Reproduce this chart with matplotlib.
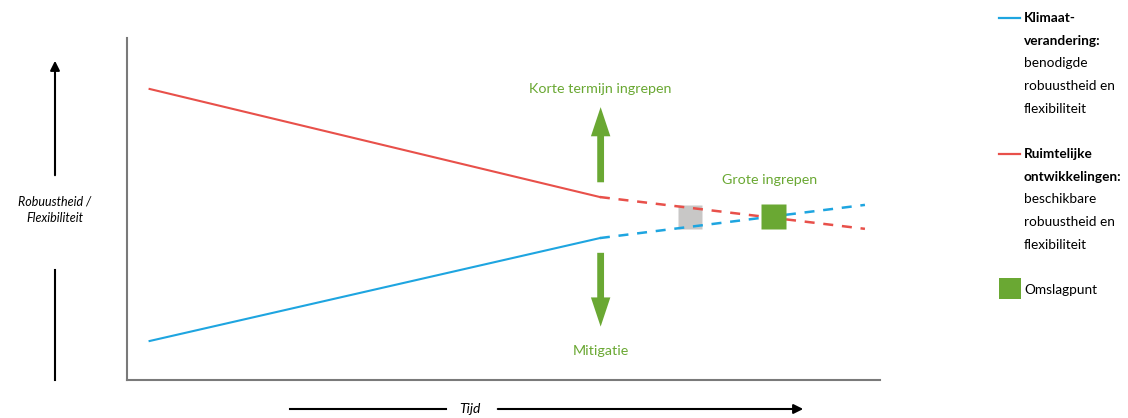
import matplotlib.pyplot as plt
from matplotlib.patches import FancyArrowPatch, Rectangle

plt.rcParams['font.family'] = ['Lato', 'DejaVu Sans']

# conceptual data: time 0..100, robustness 0..100
tijd = [3.0, 62.8, 98.0]
ruimte = [85.1, 53.5, 44.2]   # red: beschikbare robuustheid
klimaat = [11.4, 41.5, 51.2]  # blue: benodigde robuustheid
grijs_punt = (74.8, 47.7)
omslagpunt = (85.8, 48.0)
ingreep_t = 62.9

klimaat_bold = ["Klimaat-", "verandering:"]
klimaat_tekst = ["benodigde", "robuustheid en", "flexibiliteit"]
ruimte_bold = ["Ruimtelijke", "ontwikkelingen:"]
ruimte_tekst = ["beschikbare", "robuustheid en", "flexibiliteit"]

BLUE = '#1ea5e0'
RED = '#e8504a'
GREEN = '#6aa833'
GRAY = '#c8c7c6'

W, H = 1128, 418
fig = plt.figure(figsize=(W / 100, H / 100), dpi=100)

# chart axes
ax = fig.add_axes([127 / W, (H - 380) / H, 753 / W, 342 / H])
ax.set_xlim(0, 100)
ax.set_ylim(0, 100)
ax.set_xticks([])
ax.set_yticks([])
for s in ['top', 'right']:
    ax.spines[s].set_visible(False)
for s in ['left', 'bottom']:
    ax.spines[s].set_color('#7a7a7a')
    ax.spines[s].set_linewidth(1.5)

ax.plot(tijd[:2], ruimte[:2], color=RED, lw=1.5)
ax.plot(tijd[1:], ruimte[1:], color=RED, lw=1.8, ls=(0, (4, 3.5)))
ax.plot(tijd[:2], klimaat[:2], color=BLUE, lw=1.5)
ax.plot(tijd[1:], klimaat[1:], color=BLUE, lw=1.8, ls=(0, (4, 3.5)))

ax.plot(*grijs_punt, marker='s', ms=17, color=GRAY, mec='none', zorder=1)
ax.plot(*omslagpunt, marker='s', ms=18, color=GREEN, mec='none', zorder=3)

arrow_style = "simple,head_length=1.5,head_width=1.0,tail_width=0.35"
ax.add_patch(FancyArrowPatch((ingreep_t, 57.0), (ingreep_t, 80.6), arrowstyle=arrow_style,
                             mutation_scale=14, color=GREEN, lw=0))
ax.add_patch(FancyArrowPatch((ingreep_t, 38.0), (ingreep_t, 14.8), arrowstyle=arrow_style,
                             mutation_scale=14, color=GREEN, lw=0))
ax.text(ingreep_t, 85.1, "Korte termijn ingrepen", color=GREEN, fontsize=10.3,
        ha='center', va='center')
ax.text(ingreep_t, 8.5, "Mitigatie", color=GREEN, fontsize=10.3, ha='center', va='center')
ax.text(85.4, 58.5, "Grote ingrepen", color=GREEN, fontsize=10.3, ha='center', va='center')

# overlay in pixel coordinates for axis arrows and legend
ov = fig.add_axes([0, 0, 1, 1], zorder=-1)
ov.set_xlim(0, W)
ov.set_ylim(H, 0)
ov.axis('off')

ov.annotate('', xy=(55, 58), xytext=(55, 178),
            arrowprops=dict(arrowstyle='-|>', color='black', lw=1.5, mutation_scale=14))
ov.plot([55, 55], [270, 380], color='black', lw=1.5)
ov.text(55, 210, "Robuustheid /\nFlexibiliteit", fontsize=9, style='italic',
        ha='center', va='center', linespacing=1.5)

ov.plot([290, 446], [409, 409], color='black', lw=1.5)
ov.annotate('', xy=(806, 409), xytext=(495, 409),
            arrowprops=dict(arrowstyle='-|>', color='black', lw=1.5, mutation_scale=14))
ov.text(470, 409, "Tijd", fontsize=10, style='italic', ha='center', va='center')

# legend
step = 22.7


def legend_block(y0, bold_lines, lines):
    for i, txt in enumerate(bold_lines + lines):
        ov.text(1024, y0 + i * step, txt, fontsize=9.8, va='center',
                fontweight='bold' if i < len(bold_lines) else 'normal')


ov.plot([999, 1020], [18, 18], color=BLUE, lw=1.6)
legend_block(18, klimaat_bold, klimaat_tekst)
ov.plot([999, 1020], [154, 154], color=RED, lw=1.6)
legend_block(154, ruimte_bold, ruimte_tekst)
ov.add_patch(Rectangle((999, 278), 22, 21, color=GREEN, lw=0))
ov.text(1024, 290, "Omslagpunt", fontsize=9.8, va='center')

fig.savefig('out.png', dpi=100)
